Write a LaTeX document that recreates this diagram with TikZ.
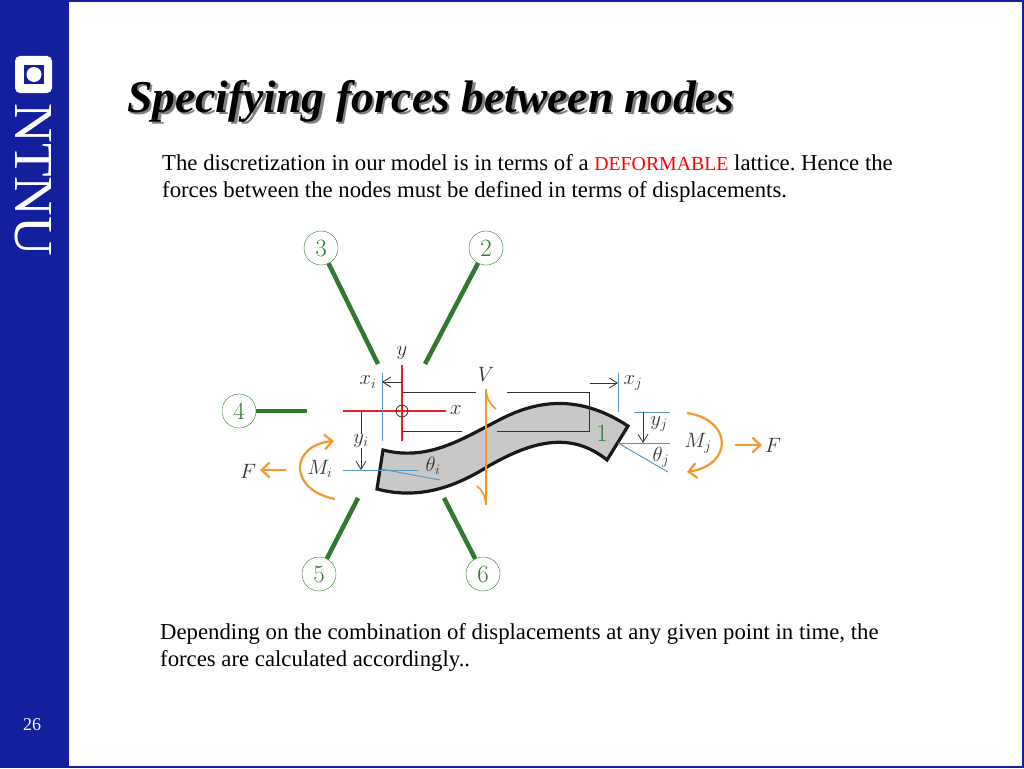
\documentclass[tikz,border=0pt]{standalone}
\usepackage{fontspec}
\newfontfamily\slidefont{Liberation Serif}
\usetikzlibrary{arrows.meta}
\definecolor{ntnublue}{HTML}{141F9E}
\definecolor{bargreen}{HTML}{2F7A2F}
\definecolor{forceorange}{HTML}{F2992E}
\definecolor{dimblue}{HTML}{5598C8}
\definecolor{dimgray}{HTML}{333333}
\definecolor{beamgray}{HTML}{C8C8C8}
\definecolor{axisred}{HTML}{E8202A}
\begin{document}
\begin{tikzpicture}[x=1pt, y=-1pt, >=to]
        \tikzset{
            body/.style   = {anchor = north west, align = left, inner sep = 0pt, font = \slidefont\fontsize{22.75}{27}\selectfont\frenchspacing},
            headline/.style = {anchor = west, inner sep = 0pt, font = \slidefont\bfseries\itshape\fontsize{45.6}{50}\selectfont},
            member/.style = {draw = bargreen, circle, thin, minimum size = 34pt, inner sep = 0pt, text = bargreen, font = \fontsize{27}{27}\selectfont},
            bar/.style    = {draw = bargreen, line width = 4.5pt},
            label/.style  = {inner sep = 0pt, text = dimgray, font = \fontsize{20}{20}\selectfont},
            dim/.style    = {draw = dimgray, line width = 0.8pt},
            dimarrow/.style = {dim, -{Straight Barb[length = 8pt, width = 10pt, line width = 0.8pt]}},
            blueline/.style = {draw = dimblue, line width = 1pt},
            force/.style  = {draw = forceorange, line width = 2.2pt},
            forcearrow/.style = {force, -{Straight Barb[length = 8pt, width = 15pt, line width = 2.2pt]}},
            axis/.style   = {draw = axisred, line width = 2.4pt}
        }
        % slide frame
        \useasboundingbox (0,0) rectangle (1024,768);
        \fill[white] (0,0) rectangle (1024,768);
        \draw[ntnublue, line width = 2pt] (0,1) -- (1023,1) -- (1023,767) -- (0,767);
        \fill[ntnublue] (0,0) rectangle (69,768);
        \fill[white, rounded corners = 5pt] (15,56) rectangle (52,93);
        \fill[ntnublue] (24,65) rectangle (44,84);
        \fill[white] (34,74.5) circle (7.5);
        \node[rotate = -90, inner sep = 0pt, text = white, font = \slidefont\fontsize{55}{55}\selectfont] (LOGO) at (33,180) {NTNU};
        \node[inner sep = 0pt, text = white, font = \slidefont\fontsize{18}{18}\selectfont] (PAGE) at (32,725) {26};

        % texts
        \node[headline, text = black!50] (SHADOW) at (129.5,103.5) {Specifying forces between nodes};
        \node[headline] (TITLE) at (127,101) {Specifying forces between nodes};
        \node[body] (INTRO) at (162,154) {The discretization in our model is in terms of a {\color{red}\fontsize{19.8}{27}\selectfont DEFORMABLE} lattice. Hence the\\forces between the nodes must be defined in terms of displacements.};
        \node[body] (OUTRO) at (160,623) {Depending on the combination of displacements at any given point in time, the\\forces are calculated accordingly..};

        % members around the beam
        \node[member] (N3) at (321,248) {$3$};
        \node[member] (N2) at (486,248) {$2$};
        \node[member] (N4) at (239,411) {$4$};
        \node[member] (N5) at (319,574) {$5$};
        \node[member] (N6) at (483,574) {$6$};
        \coordinate (E3) at (378,364);
        \coordinate (E2) at (425,364);
        \coordinate (E4) at (307,411);
        \coordinate (E5) at (358,498);
        \coordinate (E6) at (444,498);
        \draw[bar] (N3) -- (E3);
        \draw[bar] (N2) -- (E2);
        \draw[bar] (N4) -- (E4);
        \draw[bar] (N5) -- (E5);
        \draw[bar] (N6) -- (E6);

        % beam
        \draw[fill = beamgray, draw = black!90, line width = 3.2pt, line join = miter]
            (383,450) .. controls (430,462) and (465,437) .. (503,418)
            .. controls (545,397) and (585,398) .. (628,426)
            -- (607,460)
            .. controls (570,430) and (530,442) .. (487,467)
            .. controls (450,490) and (415,499) .. (377,489) -- cycle;
        \node[inner sep = 0pt, text = bargreen, font = \fontsize{28}{28}\selectfont] (N1) at (602,433) {$1$};

        % dimension frame
        \coordinate (A1) at (403,392);
        \coordinate (A2) at (476,392);
        \coordinate (A3) at (403,431);
        \coordinate (A4) at (462,431);
        \coordinate (B1) at (507,392);
        \coordinate (B2) at (589,392);
        \coordinate (B3) at (589,431);
        \coordinate (B4) at (497,431);
        \draw[dim] (A1) -- (A2);
        \draw[dim] (A3) -- (A4);
        \draw[dim] (B1) -- (B2) -- (B3) -- (B4);

        % left end
        \coordinate (XL) at (343,411);
        \coordinate (XR) at (446,411);
        \coordinate (YT) at (402,365);
        \coordinate (YB) at (402,441);
        \draw[axis] (XL) -- (XR);
        \draw[axis] (YT) -- (YB);
        \node[draw = black!80, circle, line width = 0.8pt, minimum size = 12pt, inner sep = 0pt] (O) at (402,411) {};
        \node[label] (Y) at (402,353) {$y$};
        \node[label] (X) at (456,410) {$x$};
        \coordinate (XI1) at (382,373);
        \coordinate (XI2) at (382,441);
        \coordinate (XI3) at (402,382);
        \coordinate (XI4) at (382,382);
        \draw[blueline] (XI1) -- (XI2);
        \draw[dimarrow] (XI3) -- (XI4);
        \node[label] (XI) at (368,382) {$x_i$};
        \node[label] (YI) at (361,441) {$y_i$};
        \coordinate (YI1) at (361,411);
        \coordinate (YI2) at (361,470);
        \draw[dim] (YI1) -- (YI);
        \draw[dimarrow] (YI) -- (YI2);
        \coordinate (H1) at (343,470);
        \coordinate (H2) at (418,470);
        \coordinate (T1) at (381,469);
        \coordinate (T2) at (440,480);
        \draw[blueline] (H1) -- (H2);
        \draw[blueline] (T1) -- (T2);
        \node[label] (THI) at (433,466) {$\theta_i$};
        \node[label] (MI) at (320,469) {$M_i$};
        \node[label] (FL) at (248,471) {$F$};
        \coordinate (MI1) at (335,499);
        \coordinate (MI2) at (334,441);
        \coordinate (FL1) at (286,470);
        \coordinate (FL2) at (260,470);
        \draw[forcearrow] (MI1) .. controls (288,490) and (290,445) .. (MI2);
        \draw[forcearrow] (FL1) -- (FL2);

        % shear force
        \coordinate (V1) at (486,389);
        \coordinate (V2) at (486,505);
        \coordinate (V3) at (496,409);
        \coordinate (V4) at (477,486);
        \draw[force, line width = 1.6pt] (V1) -- (V2);
        \draw[force, line width = 1.6pt] (V1) .. controls (487,400) and (490,404) .. (V3);
        \draw[force, line width = 1.6pt] (V2) .. controls (485,495) and (482,490) .. (V4);
        \node[label] (V) at (486,374) {$V$};

        % right end
        \coordinate (XJ1) at (618,373);
        \coordinate (XJ2) at (618,412);
        \coordinate (XJ3) at (590,383);
        \coordinate (XJ4) at (618,383);
        \draw[blueline] (XJ1) -- (XJ2);
        \draw[dimarrow] (XJ3) -- (XJ4);
        \node[label] (XJ) at (633,383) {$x_j$};
        \coordinate (YJ1) at (634,412);
        \coordinate (YJ2) at (670,412);
        \coordinate (YJ3) at (618,443);
        \coordinate (YJ4) at (670,443);
        \coordinate (YJ5) at (643,412);
        \coordinate (YJ6) at (643,443);
        \draw[blueline] (YJ1) -- (YJ2);
        \draw[blueline] (YJ3) -- (YJ4);
        \draw[dimarrow] (YJ5) -- (YJ6);
        \node[label] (YJ) at (659,424) {$y_j$};
        \coordinate (TJ) at (668,472);
        \draw[blueline] (YJ3) -- (TJ);
        \node[label] (THJ) at (661,457) {$\theta_j$};
        \node[label] (MJ) at (698,443) {$M_j$};
        \node[label] (FR) at (773,445) {$F$};
        \coordinate (MJ1) at (687,413);
        \coordinate (MJ2) at (687,472);
        \coordinate (FR1) at (735,445);
        \coordinate (FR2) at (762,445);
        \draw[forcearrow] (MJ1) .. controls (733,420) and (733,465) .. (MJ2);
        \draw[forcearrow] (FR1) -- (FR2);
    \end{tikzpicture}
\end{document}
